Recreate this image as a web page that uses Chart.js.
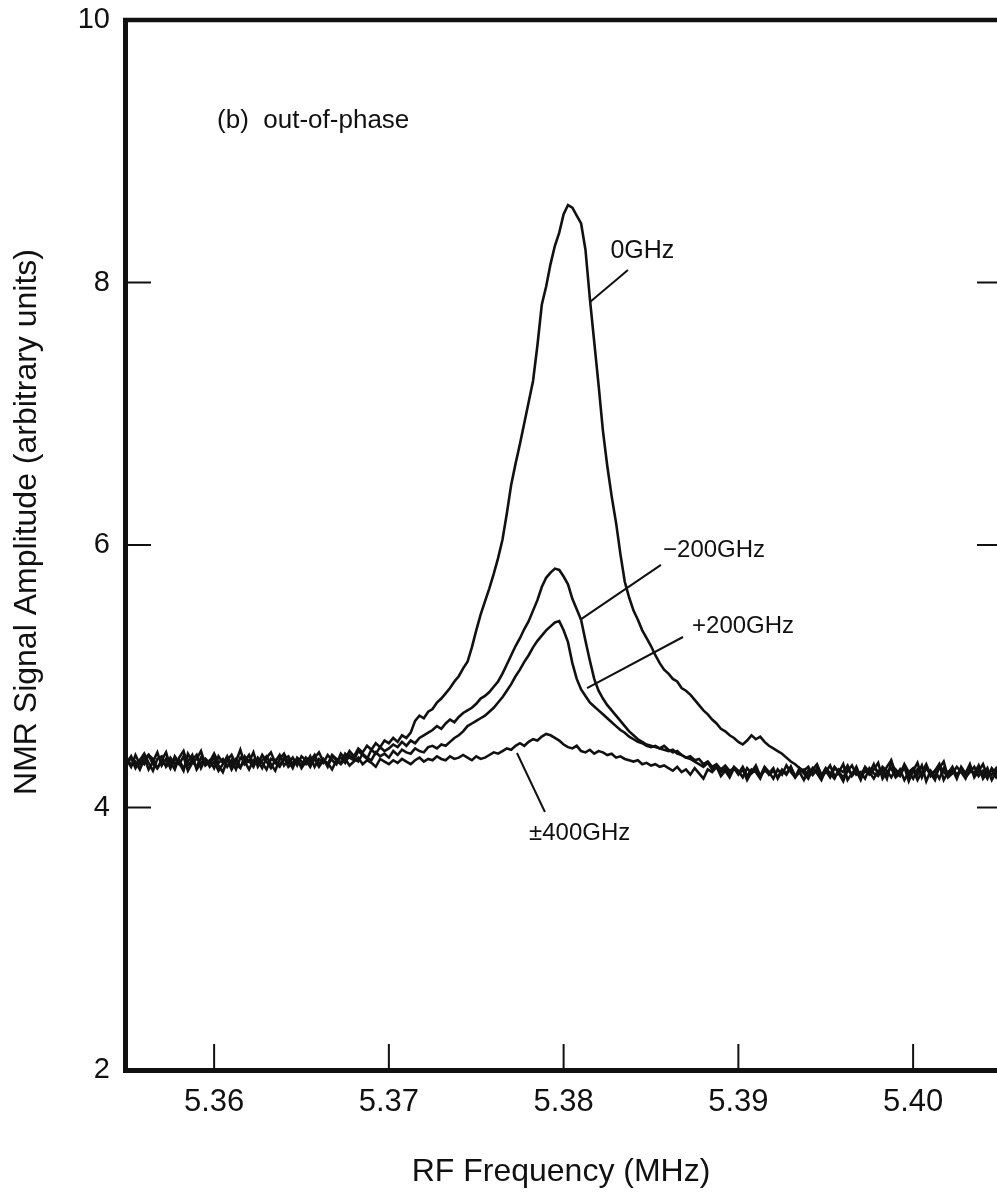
<!DOCTYPE html>
<html>
<head>
<meta charset="utf-8">
<title>NMR signal amplitude, out-of-phase</title>
<script src="https://cdn.jsdelivr.net/npm/chart.js@4.4.1/dist/chart.umd.min.js"></script>
<style>
  html, body { margin: 0; padding: 0; background: #fff; overflow: hidden; }
  canvas { display: block; }
</style>
</head>
<body>
<canvas id="nmrChart" width="997" height="1194"></canvas>
<script>
// RF frequency grid (MHz)
const freq = [
  5.355,5.35525,5.3555,5.35575,5.356,5.35625,5.3565,5.35675,5.357,5.35725,
  5.3575,5.35775,5.358,5.35825,5.3585,5.35875,5.359,5.35925,5.3595,5.35975,
  5.36,5.36025,5.3605,5.36075,5.361,5.36125,5.3615,5.36175,5.362,5.36225,
  5.3625,5.36275,5.363,5.36325,5.3635,5.36375,5.364,5.36425,5.3645,5.36475,
  5.365,5.36525,5.3655,5.36575,5.366,5.36625,5.3665,5.36675,5.367,5.36725,
  5.3675,5.36775,5.368,5.36825,5.3685,5.36875,5.369,5.36925,5.3695,5.36975,
  5.37,5.37025,5.3705,5.37075,5.371,5.37125,5.3715,5.37175,5.372,5.37225,
  5.3725,5.37275,5.373,5.37325,5.3735,5.37375,5.374,5.37425,5.3745,5.37475,
  5.375,5.37525,5.3755,5.37575,5.376,5.37625,5.3765,5.37675,5.377,5.37725,
  5.3775,5.37775,5.378,5.37825,5.3785,5.37875,5.379,5.37925,5.3795,5.37975,
  5.38,5.38025,5.3805,5.38075,5.381,5.38125,5.3815,5.38175,5.382,5.38225,
  5.3825,5.38275,5.383,5.38325,5.3835,5.38375,5.384,5.38425,5.3845,5.38475,
  5.385,5.38525,5.3855,5.38575,5.386,5.38625,5.3865,5.38675,5.387,5.38725,
  5.3875,5.38775,5.388,5.38825,5.3885,5.38875,5.389,5.38925,5.3895,5.38975,
  5.39,5.39025,5.3905,5.39075,5.391,5.39125,5.3915,5.39175,5.392,5.39225,
  5.3925,5.39275,5.393,5.39325,5.3935,5.39375,5.394,5.39425,5.3945,5.39475,
  5.395,5.39525,5.3955,5.39575,5.396,5.39625,5.3965,5.39675,5.397,5.39725,
  5.3975,5.39775,5.398,5.39825,5.3985,5.39875,5.399,5.39925,5.3995,5.39975,
  5.4,5.40025,5.4005,5.40075,5.401,5.40125,5.4015,5.40175,5.402,5.40225,
  5.4025,5.40275,5.403,5.40325,5.4035,5.40375,5.404,5.40425,5.4045,5.40475,
  5.405
];

// signal amplitude (arbitrary units)
const amp0 = [
  4.36,4.31,4.40,4.33,4.38,4.29,4.35,4.42,4.32,4.37,
  4.30,4.39,4.34,4.28,4.41,4.35,4.31,4.38,4.33,4.36,
  4.30,4.39,4.34,4.37,4.29,4.35,4.44,4.33,4.36,4.31,
  4.38,4.34,4.29,4.37,4.35,4.40,4.32,4.36,4.30,4.38,
  4.35,4.33,4.39,4.31,4.37,4.34,4.40,4.36,4.33,4.41,
  4.37,4.43,4.39,4.45,4.42,4.47,4.44,4.49,4.46,4.51,
  4.49,4.53,4.50,4.55,4.53,4.57,4.66,4.70,4.68,4.73,
  4.75,4.80,4.83,4.87,4.91,4.96,5.00,5.06,5.11,5.22,
  5.35,5.47,5.57,5.67,5.78,5.90,6.04,6.24,6.46,6.62,
  6.77,6.93,7.09,7.25,7.52,7.83,7.97,8.14,8.28,8.38,
  8.52,8.59,8.57,8.51,8.45,8.25,7.88,7.55,7.22,6.87,
  6.60,6.37,6.17,5.93,5.72,5.60,5.50,5.43,5.35,5.29,
  5.23,5.16,5.10,5.05,5.02,4.98,4.96,4.91,4.89,4.86,
  4.82,4.78,4.74,4.71,4.67,4.64,4.60,4.58,4.55,4.53,
  4.50,4.48,4.51,4.55,4.52,4.54,4.50,4.47,4.45,4.43,
  4.41,4.38,4.35,4.33,4.30,4.28,4.31,4.25,4.29,4.24,
  4.30,4.26,4.22,4.29,4.27,4.32,4.24,4.28,4.21,4.30,
  4.26,4.33,4.25,4.29,4.22,4.35,4.27,4.24,4.31,4.20,
  4.28,4.34,4.23,4.30,4.26,4.21,4.32,4.27,4.24,4.29,
  4.22,4.31,4.26,4.33,4.23,4.28,4.25,4.30,4.21,4.27,
  4.26
];

const ampMinus200 = [
  4.33,4.38,4.30,4.36,4.41,4.34,4.28,4.37,4.39,4.31,
  4.35,4.29,4.38,4.43,4.32,4.36,4.40,4.30,4.37,4.34,
  4.38,4.32,4.27,4.36,4.40,4.33,4.30,4.39,4.35,4.42,
  4.31,4.36,4.39,4.33,4.28,4.37,4.41,4.34,4.38,4.32,
  4.39,4.36,4.31,4.38,4.42,4.35,4.33,4.40,4.37,4.34,
  4.41,4.38,4.36,4.43,4.40,4.37,4.44,4.41,4.46,4.43,
  4.45,4.48,4.46,4.50,4.47,4.51,4.49,4.53,4.55,4.57,
  4.59,4.62,4.60,4.64,4.67,4.65,4.69,4.72,4.74,4.76,
  4.79,4.83,4.85,4.88,4.92,4.96,5.02,5.09,5.16,5.23,
  5.29,5.36,5.42,5.50,5.58,5.68,5.75,5.79,5.82,5.81,
  5.76,5.70,5.59,5.51,5.43,5.27,5.12,4.98,4.89,4.83,
  4.78,4.74,4.70,4.66,4.62,4.58,4.55,4.52,4.50,4.48,
  4.47,4.46,4.45,4.47,4.44,4.42,4.43,4.40,4.38,4.39,
  4.36,4.37,4.33,4.35,4.31,4.33,4.29,4.32,4.28,4.30,
  4.26,4.31,4.24,4.29,4.27,4.22,4.30,4.25,4.28,4.23,
  4.29,4.26,4.31,4.24,4.27,4.21,4.28,4.25,4.30,4.23,
  4.27,4.32,4.24,4.26,4.20,4.29,4.25,4.31,4.23,4.28,
  4.25,4.29,4.34,4.22,4.27,4.30,4.23,4.26,4.32,4.24,
  4.29,4.21,4.27,4.33,4.25,4.28,4.22,4.30,4.26,4.31,
  4.24,4.28,4.23,4.29,4.26,4.32,4.22,4.27,4.25,4.30,
  4.24
];

const ampPlus200 = [
  4.38,4.32,4.35,4.29,4.37,4.40,4.33,4.30,4.36,4.42,
  4.31,4.37,4.33,4.39,4.28,4.34,4.37,4.43,4.32,4.35,
  4.41,4.34,4.37,4.31,4.36,4.29,4.38,4.35,4.40,4.33,
  4.36,4.30,4.38,4.42,4.34,4.31,4.37,4.39,4.33,4.36,
  4.32,4.38,4.35,4.40,4.33,4.37,4.31,4.39,4.36,4.38,
  4.34,4.40,4.37,4.35,4.41,4.38,4.36,4.42,4.39,4.41,
  4.38,4.43,4.40,4.44,4.42,4.41,4.45,4.43,4.42,4.46,
  4.47,4.45,4.48,4.47,4.50,4.53,4.55,4.58,4.62,4.64,
  4.66,4.68,4.70,4.73,4.76,4.80,4.84,4.89,4.94,5.00,
  5.05,5.11,5.16,5.22,5.27,5.31,5.35,5.38,5.41,5.42,
  5.35,5.26,5.10,4.98,4.90,4.85,4.80,4.77,4.74,4.71,
  4.68,4.65,4.62,4.59,4.57,4.54,4.52,4.50,4.49,4.47,
  4.46,4.47,4.45,4.44,4.43,4.44,4.41,4.40,4.38,4.37,
  4.35,4.33,4.31,4.34,4.29,4.32,4.27,4.30,4.25,4.31,
  4.28,4.23,4.30,4.26,4.29,4.24,4.31,4.27,4.22,4.29,
  4.25,4.32,4.27,4.23,4.30,4.26,4.22,4.29,4.33,4.25,
  4.28,4.23,4.30,4.27,4.33,4.21,4.26,4.29,4.24,4.31,
  4.27,4.22,4.28,4.25,4.31,4.36,4.24,4.29,4.21,4.27,
  4.30,4.25,4.32,4.20,4.28,4.24,4.30,4.35,4.23,4.26,
  4.31,4.27,4.22,4.30,4.25,4.28,4.33,4.24,4.29,4.23,
  4.28
];

const ampPm400 = [
  4.34,4.39,4.31,4.36,4.33,4.40,4.37,4.30,4.35,4.32,
  4.38,4.33,4.36,4.30,4.35,4.40,4.29,4.34,4.37,4.31,
  4.35,4.28,4.33,4.39,4.32,4.37,4.31,4.35,4.29,4.36,
  4.33,4.40,4.35,4.30,4.36,4.32,4.38,4.31,4.34,4.37,
  4.30,4.35,4.33,4.37,4.31,4.36,4.34,4.29,4.36,4.33,
  4.37,4.32,4.35,4.38,4.33,4.36,4.34,4.31,4.37,4.35,
  4.33,4.36,4.34,4.37,4.35,4.33,4.36,4.38,4.35,4.37,
  4.36,4.39,4.37,4.36,4.39,4.37,4.38,4.40,4.38,4.36,
  4.39,4.37,4.38,4.40,4.42,4.41,4.43,4.45,4.44,4.47,
  4.49,4.47,4.50,4.52,4.51,4.54,4.56,4.55,4.53,4.51,
  4.48,4.46,4.45,4.47,4.43,4.42,4.44,4.41,4.43,4.42,
  4.40,4.41,4.38,4.39,4.37,4.36,4.35,4.36,4.33,4.34,
  4.32,4.33,4.31,4.32,4.30,4.28,4.31,4.27,4.29,4.25,
  4.30,4.26,4.22,4.29,4.27,4.31,4.24,4.28,4.23,4.30,
  4.25,4.29,4.21,4.27,4.32,4.24,4.28,4.26,4.30,4.22,
  4.28,4.25,4.31,4.23,4.27,4.29,4.24,4.30,4.26,4.21,
  4.29,4.25,4.31,4.27,4.23,4.28,4.32,4.25,4.27,4.22,
  4.30,4.26,4.24,4.31,4.28,4.23,4.29,4.25,4.33,4.27,
  4.22,4.29,4.26,4.31,4.24,4.28,4.33,4.21,4.27,4.30,
  4.25,4.29,4.23,4.27,4.31,4.24,4.28,4.22,4.30,4.26,
  4.29
];

const xTicks = [5.36, 5.37, 5.38, 5.39, 5.40];
const yTicks = [2, 4, 6, 8, 10];

// curve labels and their leader lines, in data units
const notes = [
  { text: '(b)  out-of-phase', x: 5.36017, y: 9.177, size: 26 },
  { text: '0GHz', x: 5.38268, y: 8.187, size: 25 },
  { text: '\u2212200GHz', x: 5.38569, y: 5.909, size: 24 },
  { text: '+200GHz', x: 5.38735, y: 5.330, size: 24 },
  { text: '\u00b1400GHz', x: 5.37802, y: 3.752, size: 24 }
];
const leaders = [
  [5.38368, 8.095, 5.38151, 7.851],
  [5.38557, 5.848, 5.38094, 5.429],
  [5.38683, 5.299, 5.38134, 4.910],
  [5.37893, 3.966, 5.37733, 4.415]
];

const ink = '#111';
const FONT = '"Liberation Sans", Arial, Helvetica, sans-serif';

const toPoints = (vals) => vals.map((v, i) => ({ x: freq[i], y: v }));

const series = [amp0, ampMinus200, ampPlus200, ampPm400].map((vals) => ({
  data: toPoints(vals),
  borderColor: ink,
  borderWidth: 2.6,
  pointRadius: 0,
  tension: 0,
  fill: false
}));

const leaderSets = leaders.map((l) => ({
  data: [{ x: l[0], y: l[1] }, { x: l[2], y: l[3] }],
  borderColor: ink,
  borderWidth: 2,
  pointRadius: 0,
  fill: false
}));

// inward ticks, top frame line, labels and the y title
const decorations = {
  id: 'decorations',
  afterDraw(chart) {
    const { ctx, chartArea: a, scales: { x, y } } = chart;
    ctx.save();
    ctx.strokeStyle = ink;
    ctx.fillStyle = ink;

    ctx.lineWidth = 2;
    ctx.beginPath();
    xTicks.forEach((v) => {
      const px = x.getPixelForValue(v);
      ctx.moveTo(px, a.bottom);
      ctx.lineTo(px, a.bottom - 26);
    });
    yTicks.slice(1, -1).forEach((v) => {
      const py = y.getPixelForValue(v);
      ctx.moveTo(a.left, py);
      ctx.lineTo(a.left + 26, py);
      ctx.moveTo(a.right, py);
      ctx.lineTo(a.right - 20, py);
    });
    ctx.stroke();

    ctx.lineWidth = 4.5;
    ctx.beginPath();
    ctx.moveTo(a.left - 2, a.top);
    ctx.lineTo(a.right, a.top);
    ctx.stroke();

    ctx.textAlign = 'left';
    ctx.textBaseline = 'alphabetic';
    notes.forEach((n) => {
      ctx.font = n.size + 'px ' + FONT;
      ctx.fillText(n.text, x.getPixelForValue(n.x), y.getPixelForValue(n.y));
    });

    ctx.translate(27, 522);
    ctx.rotate(-Math.PI / 2);
    ctx.textAlign = 'center';
    ctx.textBaseline = 'middle';
    ctx.font = '32px ' + FONT;
    ctx.fillText('NMR Signal Amplitude (arbitrary units)', 0, 0);
    ctx.restore();
  }
};

new Chart(document.getElementById('nmrChart'), {
  type: 'line',
  data: { datasets: [...series, ...leaderSets] },
  options: {
    responsive: false,
    animation: false,
    layout: { padding: { top: 20, right: 0, bottom: 0, left: 0 } },
    plugins: {
      legend: { display: false },
      tooltip: { enabled: false }
    },
    scales: {
      x: {
        type: 'linear',
        min: 5.3549,
        max: 5.4048,
        afterBuildTicks: (s) => { s.ticks = xTicks.map((v) => ({ value: v })); },
        afterFit: (s) => { s.height = 124; s.paddingLeft = 0; s.paddingRight = 0; },
        grid: { display: false, drawTicks: false },
        border: { display: true, color: ink, width: 5 },
        ticks: {
          color: ink,
          padding: 14,
          maxRotation: 0,
          font: { family: FONT, size: 31 },
          callback: (v) => Number(v).toFixed(2)
        },
        title: {
          display: true,
          text: 'RF Frequency (MHz)',
          color: ink,
          font: { family: FONT, size: 32 },
          padding: { top: 0, bottom: 3 }
        }
      },
      y: {
        type: 'linear',
        min: 2,
        max: 10,
        afterBuildTicks: (s) => { s.ticks = yTicks.map((v) => ({ value: v })); },
        afterFit: (s) => { s.width = 125; s.paddingTop = 0; s.paddingBottom = 0; },
        grid: { display: false, drawTicks: false },
        border: { display: true, color: ink, width: 5 },
        ticks: {
          color: ink,
          padding: 15,
          font: { family: FONT, size: 29 }
        }
      }
    }
  },
  plugins: [decorations]
});
</script>
</body>
</html>
